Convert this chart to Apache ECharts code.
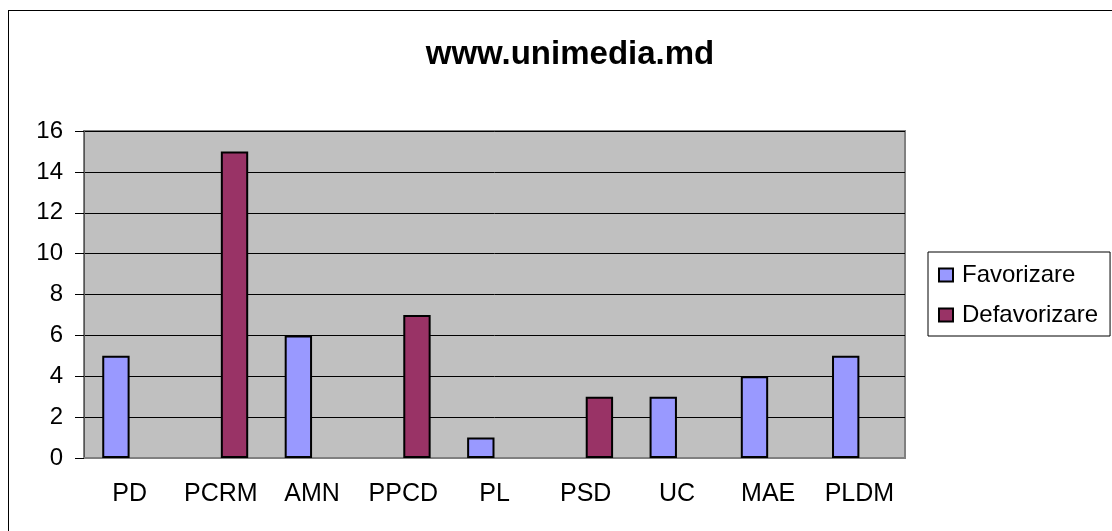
<!DOCTYPE html>
<html>
<head>
<meta charset="utf-8">
<script src="https://cdn.jsdelivr.net/npm/echarts@6/dist/echarts.min.js"></script>
<style>
  html, body { margin: 0; padding: 0; background: #fff; }
  #frame { position: absolute; left: 8px; top: 10px; width: 1110px; height: 530px; border: 1px solid #000; box-sizing: border-box; }
  #graph { position: absolute; left: 0; top: 0; width: 1112px; height: 531px; }
</style>
</head>
<body>
<div id="frame"></div>
<div id="graph"></div>
<script>
var categories = ['PD', 'PCRM', 'AMN', 'PPCD', 'PL', 'PSD', 'UC', 'MAE', 'PLDM'];
var favorizare = [5, null, 6, null, 1, null, 3, 4, 5];
var defavorizare = [null, 15, null, 7, null, 3, null, null, null];
var yTicks = [0, 2, 4, 6, 8, 10, 12, 14, 16];

var dom = document.getElementById('graph');
var myChart = echarts.init(dom);
var fontFam = '"Liberation Sans", Arial, sans-serif';

var option = {
  animation: false,
  textStyle: { fontFamily: fontFam },
  title: {
    text: 'www.unimedia.md',
    left: 565,
    textAlign: 'center',
    top: 33,
    textStyle: { fontSize: 33, fontWeight: 'bold', color: '#000', fontFamily: fontFam }
  },
  legend: {
    orient: 'vertical',
    left: 928,
    top: 252,
    padding: [11, 12, 9, 10],
    itemGap: 16,
    itemWidth: 14,
    itemHeight: 13,
    icon: 'rect',
    borderColor: '#000',
    borderWidth: 1,
    data: ['Favorizare', 'Defavorizare'],
    textStyle: { fontSize: 24, color: '#000', fontFamily: fontFam, padding: [0, 0, 0, 4] }
  },
  grid: {
    left: 84,
    right: 207,
    top: 131,
    bottom: 73,
    show: true,
    backgroundColor: '#C0C0C0',
    borderColor: '#808080',
    borderWidth: 2
  },
  xAxis: {
    type: 'category',
    data: categories,
    axisLine: { lineStyle: { color: '#808080', width: 2 } },
    axisTick: { inside: true, length: 6, alignWithLabel: false, lineStyle: { color: '#333' } },
    axisLabel: { interval: 0, margin: 24, fontSize: 25, color: '#000', fontFamily: fontFam }
  },
  yAxis: {
    type: 'value',
    min: yTicks[0],
    max: yTicks[yTicks.length - 1],
    interval: 2,
    axisLine: { show: true, lineStyle: { color: '#555', width: 1 } },
    axisTick: { show: true, length: 9, lineStyle: { color: '#000' } },
    axisLabel: { margin: 21, fontSize: 24, color: '#000', fontFamily: fontFam },
    splitLine: { lineStyle: { color: '#000', width: 1 } }
  },
  series: [
    {
      name: 'Favorizare',
      type: 'bar',
      data: favorizare,
      barGap: 0,
      barCategoryGap: '40%',
      itemStyle: { color: '#9999FF', borderColor: '#000', borderWidth: 2 }
    },
    {
      name: 'Defavorizare',
      type: 'bar',
      data: defavorizare,
      barGap: 0,
      barCategoryGap: '40%',
      itemStyle: { color: '#993366', borderColor: '#000', borderWidth: 2 }
    }
  ]
};

myChart.setOption(option);
</script>
</body>
</html>
